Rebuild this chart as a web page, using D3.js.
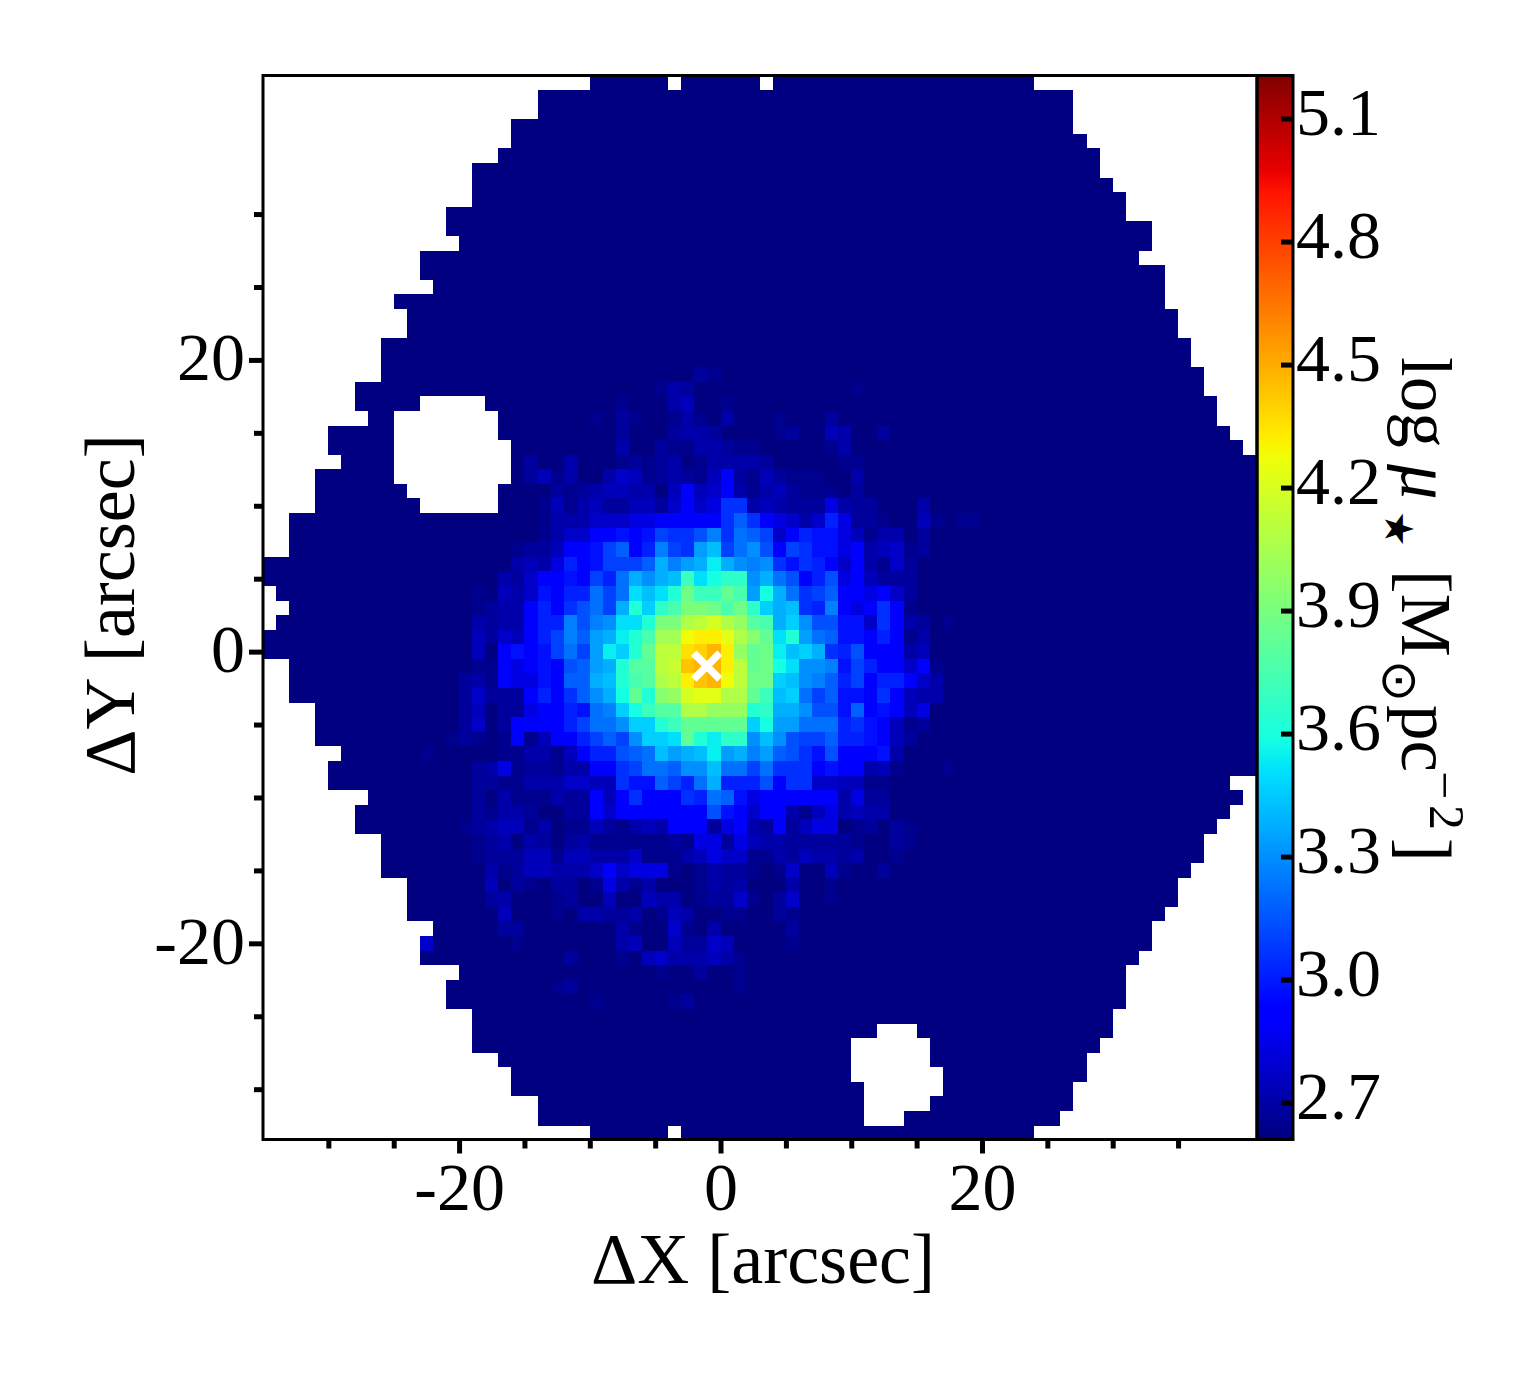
<!DOCTYPE html>
<html><head><meta charset="utf-8">
<style>html,body{margin:0;padding:0;background:#fff}svg{display:block}text{font-family:"Liberation Serif","Times New Roman",serif;fill:#000}</style>
<script src="https://cdnjs.cloudflare.com/ajax/libs/d3/7.8.5/d3.min.js"></script>
</head><body><div id="chart"></div>
<script>
// footprint of the map: first column and end column (exclusive) of every row
const rowStart=[25,21,21,19,19,18,16,16,16,14,14,15,12,12,13,10,11,11,9,9,9,7,7,8,5,5,6,4,4,4,2,2,2,0,0,1,2,1,0,0,2,2,2,4,4,4,6,5,5,8,7,7,9,9,9,11,11,11,13,12,12,15,14,14,16,16,16,18,19,19,21,21,25];
const rowEnd=[59,62,62,62,63,64,64,65,66,66,68,68,67,69,69,69,70,70,71,71,72,72,73,73,74,75,76,76,76,76,76,76,76,76,76,76,76,76,76,76,76,76,76,76,76,76,76,76,74,75,74,73,72,72,71,70,70,69,68,68,67,66,66,66,65,65,64,63,63,62,62,61,59];
// masked-out cells: row, from column, to column (exclusive)
const holes=[[0,31,32],[0,38,39],[72,31,32],
[22,12,17],[23,10,18],[24,10,18],[25,10,19],[26,10,19],[27,10,19],[28,11,18],[29,12,18],
[65,47,50],[66,45,51],[67,45,51],[68,45,52],[69,46,52],[70,46,51],[71,46,49]];
// surface density above the floor, in steps of the colour table; rows from 20, columns from 14
const firstRow=20, firstCol=14;
const levelRows=[
[0,0,0,0,0, 0,0,0,0,0, 0,0,0,0,0, 0,0,0,0,2, 1],
[0,0,0,0,0, 0,0,0,0,0, 0,0,0,0,0, 0,1,3,2,0, 0,0,0,0,0, 0,0,0,0,0, 0,1],
[0,0,0,0,0, 0,0,0,0,0, 0,0,0,1,0, 0,0,3,4,0, 0,1],
[0,0,0,0,0, 0,0,0,0,0, 0,1,0,2,1, 0,0,1,3,1, 0,3,0,0,0, 1,0,0,0,2],
[0,0,0,0,0, 0,0,0,0,0, 0,0,0,2,0, 0,0,2,3,3, 2,0,0,0,0, 1,2,0,0,4, 3,0,0,2,0],
[0,0,0,0,0, 0,0,0,0,0, 0,0,0,3,0, 0,2,1,1,3, 3,2,1,1,0, 0,0,0,0,1, 3],
[0,0,0,0,0, 0,2,0,0,3, 0,0,0,1,2, 1,2,3,0,1, 3,3,3,3,2, 0,0,0,0,0, 1,1],
[0,0,0,0,0, 0,2,4,1,3, 0,0,3,5,4, 1,2,3,2,1, 4,7,2,1,4, 2,1,1,1,0, 0,3],
[0,0,0,0,0, 0,0,0,2,1, 2,3,4,4,3, 3,0,4,7,4, 5,8,3,1,3, 4,2,1,1,1, 0,2],
[0,0,0,0,0, 0,0,1,4,1, 3,4,2,2,4, 4,2,5,7,5, 6,11,11,3,4, 3,2,2,2,6, 3,2,2,0,0, 0,3],
[0,0,0,0,0, 0,0,1,3,3, 3,5,5,5,6, 6,7,7,7,7, 8,11,14,11,7, 6,5,3,5,10, 6,2,2,1,0, 0,4,1],
[0,0,0,0,0, 0,0,1,3,5, 5,7,7,9,7, 9,12,11,11,13, 16,11,15,14,12, 5,8,10,9,9, 6,4,1,3,3, 0,2],
[0,0,0,0,0, 1,2,2,4,7, 7,9,12,14,8, 10,16,12,11,18, 20,12,15,17,13, 7,12,11,9,9, 6,7,3,4,5, 1,2],
[0,0,0,0,0, 3,4,3,6,10, 7,9,12,12,12, 14,19,16,18,19, 23,19,17,16,17, 11,9,11,10,7, 5,8,3,1,5, 2],
[0,0,0,0,3, 2,5,7,7,9, 8,12,10,15,19, 17,19,20,27,22, 24,26,26,17,19, 15,13,8,10,13, 6,7,4,2,2, 2],
[0,0,1,0,4, 3,5,9,7,10, 10,15,12,15,22, 20,22,25,31,27, 27,30,28,18,24, 19,15,11,12,14, 7,8,6,8,5, 2],
[0,0,1,2,3, 3,7,10,8,11, 13,15,12,19,25, 21,26,28,32,32, 31,28,31,26,21, 19,20,11,10,16, 8,6,8,11,8, 1],
[0,0,3,2,3, 3,7,10,10,16, 13,16,17,22,22, 25,32,32,36,37, 39,36,34,29,28, 19,21,17,13,13, 9,9,5,11,8, 3,2,0,1],
[0,0,4,2,5, 4,7,10,12,16, 14,18,19,23,25, 28,35,35,41,42, 42,40,36,33,30, 22,25,18,15,14, 9,9,8,10,7, 1,3],
[0,0,4,0,8, 9,8,9,12,15, 12,18,23,21,25, 30,37,37,43,44, 46,42,34,30,31, 23,20,21,19,11, 10,13,8,8,8, 3,4],
[0,0,1,1,8, 6,8,9,8,13, 14,18,19,25,29, 29,37,38,45,46, 46,42,37,30,31, 24,22,17,17,16, 9,12,10,8,8, 5,7,1],
[0,2,3,1,8, 6,6,9,7,14, 14,19,20,25,28, 29,36,37,42,45, 46,41,37,31,31, 21,20,17,16,14, 10,12,8,10,10, 7,5,3],
[0,2,5,2,2, 2,7,10,7,11, 14,17,19,24,30, 25,33,34,39,40, 40,36,36,30,27, 20,21,15,12,14, 9,9,7,11,7, 4,3,3],
[0,2,4,0,2, 2,6,8,7,10, 9,15,16,21,24, 27,29,29,36,36, 34,34,34,25,26, 19,19,17,13,13, 9,14,7,9,7, 4,6],
[0,2,5,0,2, 7,7,7,7,10, 12,15,15,17,21, 21,25,27,30,30, 30,30,30,21,24, 18,18,15,15,15, 10,11,9,7,4, 1,2],
[1,2,1,0,1, 7,1,4,7,7, 10,12,14,12,17, 21,21,22,30,25, 23,26,26,17,20, 17,13,12,12,14, 10,10,9,7,4, 2],
[0,0,0,0,1, 1,3,3,1,4, 8,10,10,13,14, 15,20,18,19,20, 23,18,19,16,18, 14,13,11,9,13, 8,7,7,9,3],
[0,0,2,3,6, 1,2,2,1,3, 3,7,7,11,12, 15,15,14,17,17, 20,15,15,12,15, 11,11,11,8,9, 7,7,3,4,1, 0,0,0,1],
[0,0,2,2,1, 1,3,3,3,5, 5,4,4,11,9, 9,14,12,10,15, 19,10,10,10,13, 7,11,11,5,5, 4,4,1,1],
[0,0,2,0,3, 1,1,1,3,2, 2,7,4,7,11, 7,7,7,11,10, 15,14,9,6,8, 7,7,7,7,7, 3,6,2,2],
[0,0,2,1,3, 3,2,0,0,2, 2,7,5,7,7, 7,7,7,8,8, 13,9,7,5,7, 7,3,1,4,6, 3,4,3,3],
[0,1,2,3,4, 4,1,3,0,1, 1,4,2,1,3, 4,3,7,7,7, 2,6,7,3,2, 7,2,4,6,6, 0,1,2,0,2, 1],
[0,0,1,2,3, 0,3,2,0,2, 3,1,1,1,1, 1,1,2,1,6, 6,2,6,4,3, 3,2,2,2,2, 2,1,0,0,2, 1],
[0,0,1,2,2, 2,4,4,1,4, 4,3,3,3,5, 1,1,1,3,4, 6,5,5,1,1, 3,2,4,3,3, 2,3,0,0,1],
[0,0,0,3,1, 2,4,4,3,3, 3,5,7,5,6, 6,6,1,0,1, 3,2,2,1,0, 1,5,0,0,4, 1,0,0,2],
[0,0,0,4,0, 2,1,0,2,2, 0,1,6,3,1, 3,0,0,0,1, 3,2,3,0,0, 0,3,0,0,1],
[0,0,0,2,3, 0,0,0,1,2, 0,0,4,0,0, 4,3,3,0,1, 2,2,5,1,0, 2,5,0,0,1],
[0,0,0,0,4, 0,0,0,1,0, 3,3,2,2,3, 0,1,4,3,0, 0,1,1,0,0, 2,1],
[0,0,0,0,2, 2,0,0,0,0, 0,0,0,3,1, 0,0,5,1,0, 3,0,0,0,0, 0,2],
[0,0,0,0,0, 1,0,0,0,0, 0,0,0,3,4, 0,0,4,2,2, 5,4,0,0,0, 0,1],
[0,0,0,0,0, 0,0,0,0,2, 0,0,0,1,0, 4,5,3,3,3, 4,3,1],
[0,0,0,0,0, 0,0,0,0,0, 0,0,0,0,0, 0,1,0,0,2, 0,0,1],
[0,0,0,0,0, 0,0,0,1,2, 0,0,0,0,0, 0,0,0,0,0, 0,0,1],
[0,0,0,0,0, 0,0,0,0,0, 0,1,0,0,0, 0,0,1,2,0]
];
// isolated brighter cells outside that block: row, column, level
const extraCells=[[59,12,5],[46,12,1],[30,53,1],[30,54,1]];

const xMajor=[-20,0,20], xMinor=[-30,-25,-15,-10,-5,5,10,15,25,30,35];
const yMajor=[-20,0,20], yMinor=[-30,-25,-15,-10,-5,5,10,15,25,30];
const cbTicks=[2.7,3.0,3.3,3.6,3.9,4.2,4.5,4.8,5.1];
const vMin=2.61, vMax=5.205, levelCount=64;
const centre=[-1.05,-1];

const L=263,R=1256.5,T=75.5,B=1139.5,CL=1258,CR=1293;
const x=d3.scaleLinear().domain([-35,41]).range([L,R]);
const y=d3.scaleLinear().domain([39.5,-33.45]).range([T,B]);
const cb=d3.scaleLinear().domain([vMin,vMax]).range([B,T]);
const rC=d3.scaleLinear().domain([0,.35,.66,.89,1]).range([0,0,255,255,128]);
const gC=d3.scaleLinear().domain([0,.125,.375,.64,.91,1]).range([0,0,255,255,0,0]);
const bC=d3.scaleLinear().domain([0,.11,.34,.65,1]).range([128,255,255,0,0]);
const t=d3.scaleLinear().domain([vMin,vMax]).range([0,1]).clamp(true);
const jet=v=>{const u=t(v);return `rgb(${Math.round(rC(u))},${Math.round(gC(u))},${Math.round(bC(u))})`;};
const levelCalib=d3.scaleLinear().domain([0,5,7,levelCount]).range([0,4,7,levelCount]);
const levelToValue=l=>vMin+levelCalib(l)*(vMax-vMin)/levelCount;

const svg=d3.select("#chart").append("svg").attr("width",1540).attr("height",1375);

const cells=[];
rowStart.forEach((s,r)=>{
  for(let c=s;c<rowEnd[r];c++){
    if(holes.some(h=>h[0]===r&&c>=h[1]&&c<h[2]))continue;
    const row=levelRows[r-firstRow]||[];
    let l=row[c-firstCol]||0;
    const e=extraCells.find(k=>k[0]===r&&k[1]===c); if(e)l=e[2];
    cells.push({r,c,v:levelToValue(l)});
  }
});
svg.append("g").attr("shape-rendering","crispEdges").selectAll("rect").data(cells).join("rect")
  .attr("x",d=>Math.round(x(d.c-35))).attr("width",d=>Math.round(x(d.c-34))-Math.round(x(d.c-35)))
  .attr("y",d=>Math.round(y(39.5-d.r))).attr("height",d=>Math.round(y(38.5-d.r))-Math.round(y(39.5-d.r)))
  .attr("fill",d=>jet(d.v));

// colour bar
const steps=d3.range(0,532).map(i=>vMin+(vMax-vMin)*i/532);
const stepV=(vMax-vMin)/532;
svg.append("g").attr("shape-rendering","crispEdges").selectAll("rect").data(steps).join("rect")
  .attr("x",CL).attr("width",CR-CL).attr("y",d=>cb(d+stepV)).attr("height",cb(vMin)-cb(vMin+stepV)+.6)
  .attr("fill",d=>jet(d));

// frames
svg.append("rect").attr("x",L).attr("y",T).attr("width",CR-L).attr("height",B-T).attr("fill","none").attr("stroke","#000").attr("stroke-width",3);
svg.append("line").attr("x1",R+.5).attr("x2",R+.5).attr("y1",T).attr("y2",B).attr("stroke","#000").attr("stroke-width",3.5);

function styleAxis(g){g.select(".domain").remove();g.selectAll(".tick line").attr("stroke","#000").attr("stroke-width",5);}
const fs=68;
const gx=svg.append("g").attr("transform",`translate(0,${B})`);
gx.append("g").call(d3.axisBottom(x).tickValues(xMinor).tickSize(9).tickFormat("")).call(styleAxis);
gx.append("g").call(d3.axisBottom(x).tickValues(xMajor).tickSize(14).tickFormat(d=>String(d))).call(styleAxis)
  .selectAll("text").attr("dy",null).attr("y",70).style("font-size",fs+"px");
const gy=svg.append("g").attr("transform",`translate(${L},0)`);
gy.append("g").call(d3.axisLeft(y).tickValues(yMinor).tickSize(9).tickFormat("")).call(styleAxis);
gy.append("g").call(d3.axisLeft(y).tickValues(yMajor).tickSize(14).tickFormat(d=>String(d))).call(styleAxis)
  .selectAll("text").attr("x",-18).attr("dy",null).attr("y",20).style("font-size",fs+"px");
const gc=svg.append("g").attr("transform",`translate(${CR},0)`);
gc.append("g").call(d3.axisLeft(cb).tickValues(cbTicks).tickSize(12).tickFormat(d3.format(".1f"))).call(styleAxis)
  .selectAll("text").attr("text-anchor","start").attr("x",3).attr("dy",null).attr("y",16).style("font-size",fs+"px");
svg.selectAll("g text").attr("fill","#000").attr("font-family",null);

// axis titles
svg.append("text").attr("x",763).attr("y",1283).attr("text-anchor","middle").style("font-size","72px").text("ΔX [arcsec]");
svg.append("text").attr("transform","translate(134,605) rotate(-90)").attr("text-anchor","middle").style("font-size","72px").text("ΔY [arcsec]");

// colour-bar title, read downward
const pieces=[
 {s:"log",b:1402,y:357,z:71},
 {s:"μ",b:1402,y:464,z:71,it:true},
 {s:"★",b:1385,y:511,z:40,f:"DejaVu Sans"},
 {s:"[M",b:1402,y:570,z:71},
 {s:"⊙",b:1383,y:660,z:50,f:"DejaVu Sans"},
 {s:"pc",b:1402,y:705,z:71},
 {s:"−",b:1428,y:771,z:50},
 {s:"2",b:1430,y:805,z:50},
 {s:"]",b:1402,y:838,z:71}
];
svg.selectAll(".cbt").data(pieces).join("text").attr("class","cbt")
  .attr("transform",d=>`translate(${d.b},${d.y}) rotate(90)`)
  .style("font-size",d=>d.z+"px").style("font-style",d=>d.it?"italic":null)
  .style("font-family",d=>d.f||null).text(d=>d.s);

// centre marker
const g=svg.append("g").attr("transform",`translate(${x(centre[0])},${y(centre[1])})`).attr("stroke","#fff").attr("stroke-width",7.5);
[[-13,-13,13,13],[-13,13,13,-13]].forEach(p=>g.append("line").attr("x1",p[0]).attr("y1",p[1]).attr("x2",p[2]).attr("y2",p[3]));
</script></body></html>
